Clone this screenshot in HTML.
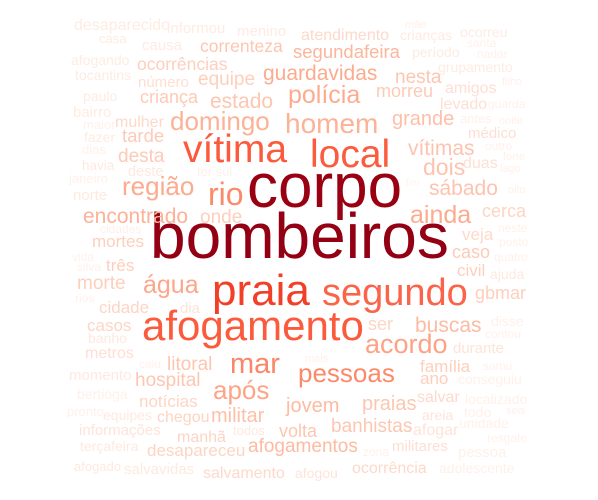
<!DOCTYPE html>
<html><head><meta charset="utf-8"><style>
html,body{margin:0;padding:0;background:#fff;}
svg{display:block;font-family:"Liberation Sans",Arial,sans-serif;}
</style></head><body>
<svg id="cloud" width="598" height="500" viewBox="0 0 598 500"></svg>
<script>
const words=["bombeiros","corpo","praia","afogamento","vítima","local","segundo","mar","pessoas","rio","acordo","água","após","ainda","região","domingo","homem","polícia","guardavidas","segundafeira","vítimas","dois","sábado","grande","jovem","estado","encontrado","onde","buscas","praias","militar","litoral","hospital","banhistas","afogamentos","volta","nesta","morreu","equipe","criança","ocorrências","correnteza","tarde","desta","morte","mortes","três","cidade","casos","caso","civil","gbmar","cerca","ser","família","ano","salvar","notícias","chegou","manhã","desapareceu","salvamento","ocorrência","militares","metros","mulher","atendimento","número","amigos","levado","duas","médico","veja","durante","afogar","areia","informações","dia","banho","momento","afogou","desaparecido","informou","menino","causa","casa","afogando","tocantins","paulo","bairro","maior","fazer","dias","havia","deste","janeiro","norte","ter sul","cidades","crianças","mãe","ocorreu","santa","nadar","período","grupamento","filho","guarda","antes","noite","outro","forte","lago","fim","oito","neste","posto","quatro","ajuda","disse","contou","samu","conseguiu","localizado","todo","seis","unidade","resgate","pessoa","zona","adolescente","mais","vida","silva","rios","caiu","bertioga","pronto","equipes","todos","terçafeira","afogado","salvavidas"];
const xs=[150,247,212,142,183,310,322,230,298,208,365,143,213,410,122,170,285,288,263,293,408,423,429,392,286,210,83,200,415,362,211,167,135,331,248,279,395,376,198,140,137,200,122,118,77,92,106,99,87,452,457,475,482,368,420,420,417,139,157,177,147,203,352,392,85,115,301,138,445,440,463,468,462,453,413,422,79,180,88,69,295,74,167,237,142,99,71,75,83,73,83,84,82,82,128,69,73,197,100,400,405,460,467,477,412,438,502,488,460,499,485,503,500,406,508,498,499,494,490,491,485,483,458,465,464,506,459,487,458,363,439,305,72,77,75,139,77,67,103,233,80,74,124];
const ys=[258,207,305,340,162,167,305,373,382,205,353,293,399,223,195,130,133,103,80,58,155,175,195,125,412,108,223,223,332,410,422,370,386,432,452,437,83,97,85,103,70,52,142,162,289,247,271,313,331,258,276,299,217,330,372,384,402,407,422,442,456,478,473,451,358,127,40,87,93,109,168,138,240,353,435,420,435,313,343,380,478,30,33,36,50,43,65,80,101,117,129,142,154,170,176,183,200,176,233,40,28,37,47,58,57,72,85,108,123,124,150,160,172,186,193,232,246,261,279,326,338,370,384,404,417,414,428,442,457,456,473,362,261,271,302,368,399,416,420,435,451,471,474];
const sizes=[64,62,44,42,39,39,38,29,26,32,27,25,26,25,26,26,28,25,21,18.5,21,23,21,20,20,21,21,19,21,20,20,19,19,19,19,18,19,18,19,18,17.5,17.5,18.5,19,19,17,17,17,17,18,17,18,18,18,17,17,16,17,16,16,17,16,16,15,16,16,16,15,16,16,16,15,17,15,16,14,15,15,14,15,14,16,15,15,15,13,14,14,14,15,13,14,13,13.5,14.5,13,15,13,12,14,11,14,12,12,14,14,11,12,13,11,12,11,11,10,11,12,12,12,14,14,12,12,14,14,14,11,14,12,15,12,14,11,12,12,12,12,14,13,14,13,14,13,15];
const colors=["#930014","#990012","#f13f28","#fb5b3c","#fb5a3c","#fb5c3e","#fb6448","#fc8668","#fc8a6a","#fc8a6a","#fca386","#fca68a","#fca588","#fcab8f","#fcab8f","#fcb297","#fcb297","#fcab8f","#fcab8f","#fcb69c","#fdc3ae","#fdc3ae","#fdc3ae","#fdbfa8","#fdbba3","#fdc6b0","#fcb297","#fdcfbc","#fdbba3","#fdc6b0","#fdc0a9","#fdc6b0","#fdc6b0","#fdc6b0","#fdbba3","#fdc6b0","#fdc6b0","#fdcab6","#fdcfbc","#fdcab6","#fdcfbc","#fdc6b0","#fdcab6","#fdcab6","#fdcfbc","#fdcfbc","#fdcfbc","#fdd5c4","#fdd5c4","#fdcab6","#fdcfbc","#fdcfbc","#fdd5c4","#fdd5c4","#fdcfbc","#fdcfbc","#fdd9ca","#fdd5c4","#fdd5c4","#fdd5c4","#fdd5c4","#fdd9ca","#fdd9ca","#fedfd2","#fedfd2","#fdd9ca","#fdd9ca","#fedfd2","#fedfd2","#fedfd2","#fedfd2","#fedfd2","#fdd9ca","#fee4d8","#fee4d8","#fee4d8","#fee4d8","#fee4d8","#fee9df","#fee9df","#fee4d8","#feebe2","#feebe2","#feebe2","#feebe2","#feebe2","#feebe2","#feebe2","#feebe2","#feebe2","#fff0ea","#feebe2","#fff0ea","#fee9df","#fee9df","#fff0ea","#fee9df","#fff0ea","#fff0ea","#feebe2","#fff0ea","#feebe2","#fff0ea","#fff0ea","#feebe2","#feebe2","#fff0ea","#fff0ea","#fff0ea","#fff0ea","#fff0ea","#fff0ea","#fff0ea","#fff3ee","#fff0ea","#fff0ea","#fff0ea","#fff0ea","#fee9df","#fff0ea","#fff0ea","#fff0ea","#fff0ea","#fff0ea","#fff0ea","#fff0ea","#fff0ea","#fff0ea","#fff0ea","#fff0ea","#fff0ea","#fff0ea","#fff0ea","#fff0ea","#fff0ea","#fff0ea","#fff0ea","#fff0ea","#fee9df","#fee9df","#fee9df"];
const svg=document.getElementById('cloud');
const NS='http://www.w3.org/2000/svg';
for(let i=0;i<words.length;i++){
  const t=document.createElementNS(NS,'text');
  t.setAttribute('x',xs[i]);
  t.setAttribute('y',ys[i]);
  t.setAttribute('font-size',sizes[i]||13);
  t.setAttribute('fill',colors[i]||'#fee9df');
  
  
  t.textContent=words[i];
  svg.appendChild(t);
}
</script>
</body></html>
